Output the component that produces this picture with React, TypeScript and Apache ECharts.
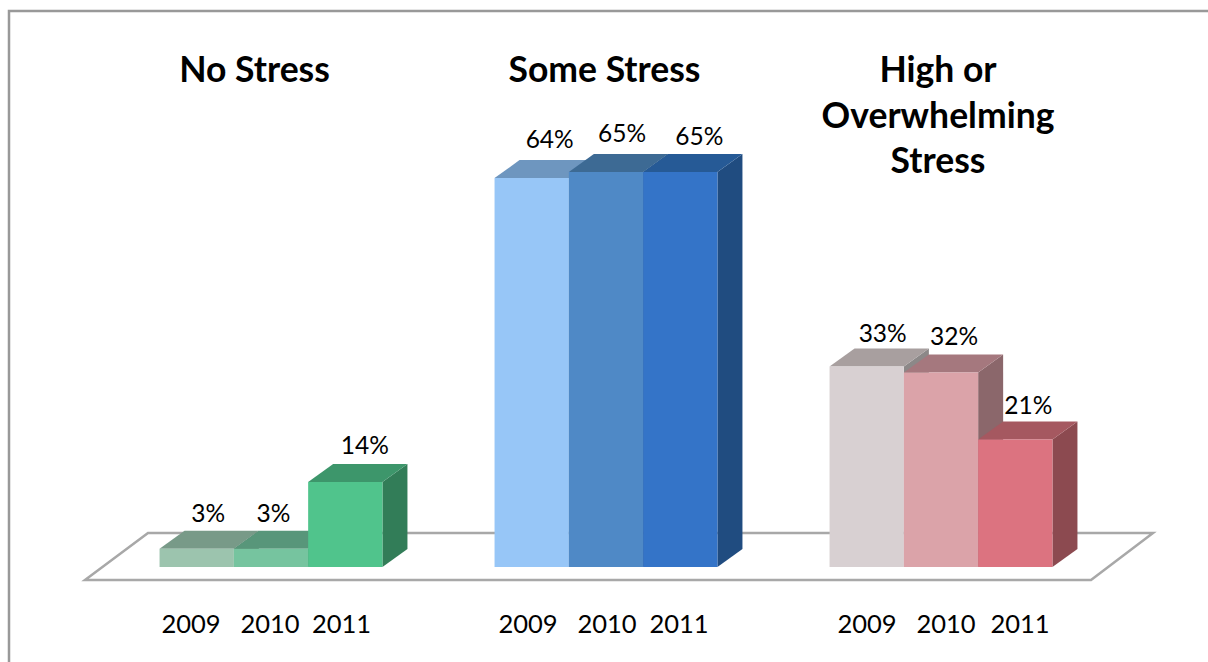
import React, { useEffect, useRef } from "react";
import * as echarts from "echarts";

const groups = ["No Stress", "Some Stress", "High or\nOverwhelming\nStress"];
const years = ["2009", "2010", "2011"];
const values2009 = [3, 64, 33];
const values2010 = [3, 65, 32];
const values2011 = [14, 65, 21];
const valueLabels = ["%"];

const barWidth = 74.3;
const depthX = 25;
const depthY = 18;
const fronts = [
  ["#9cc4ae", "#76c49f", "#50c48c"],
  ["#97c6f7", "#4f89c6", "#3474c8"],
  ["#d8d0d2", "#dba3a9", "#dc7380"],
];
const tops = [
  ["#789a88", "#58967a", "#3d966b"],
  ["#6e96bf", "#3d6a94", "#265a96"],
  ["#a89f9f", "#a5787e", "#a55860"],
];
const sides = [
  ["#5f7d6d", "#477a62", "#327d58"],
  ["#56779a", "#305477", "#204c80"],
  ["#8c8888", "#8b676b", "#8c4a50"],
];
// offset of each value label from its bar's centre: [dx, y above front top]
const labelOffsets = [
  [[11.5, 36], [2.5, 36], [19.5, 37]],
  [[18, 40], [16, 40], [19, 37]],
  [[16, 34], [13, 37], [13, 35]],
];
const yearLabelDx = [
  [-80, -1, 70.5],
  [-78, 1, 73],
  [-74, 5, 79],
];

function makeSeries(yearIdx: number, vals: number[]) {
  return {
    type: "custom",
    name: years[yearIdx],
    data: vals.map((v, i) => [i, v]),
    clip: false,
    renderItem: (_p: any, api: any) => {
      const g = api.value(0) as number;
      const v = api.value(1) as number;
      const [cx, yTop] = api.coord([g, v]);
      const [, yBase] = api.coord([g, 0]);
      const x0 = cx + (yearIdx - 1) * barWidth - barWidth / 2;
      const x1 = x0 + barWidth;
      const [ldx, ldy] = labelOffsets[g][yearIdx];
      return {
        type: "group",
        children: [
          {
            type: "polygon",
            shape: { points: [[x1, yTop], [x1 + depthX, yTop - depthY], [x1 + depthX, yBase - depthY], [x1, yBase]] },
            style: { fill: sides[g][yearIdx] },
          },
          {
            type: "polygon",
            shape: { points: [[x0, yTop], [x0 + depthX, yTop - depthY], [x1 + depthX, yTop - depthY], [x1, yTop]] },
            style: { fill: tops[g][yearIdx] },
          },
          {
            type: "rect",
            shape: { x: x0, y: yTop, width: barWidth, height: yBase - yTop },
            style: { fill: fronts[g][yearIdx] },
          },
          {
            type: "text",
            z2: 10,
            style: {
              text: `${v}${valueLabels[0]}`,
              x: (x0 + x1) / 2 + ldx,
              y: yTop - ldy,
              align: "center",
              verticalAlign: "middle",
              font: "24.5px Lato",
              fill: "#000",
            },
          },
          {
            type: "text",
            z2: 10,
            style: {
              text: years[yearIdx],
              x: cx + yearLabelDx[g][yearIdx],
              y: 622.5,
              align: "center",
              verticalAlign: "middle",
              font: "25.5px Lato",
              fill: "#000",
            },
          },
        ],
      };
    },
  };
}

export default function App() {
  const ref = useRef<HTMLDivElement>(null);
  useEffect(() => {
    const chart = echarts.init(ref.current!, undefined, { renderer: "svg" });
    chart.setOption({
      animation: false,
      backgroundColor: "#fff",
      grid: { left: 103.5, width: 1005, top: 172, bottom: 95 },
      xAxis: { type: "category", data: groups, show: false },
      yAxis: { type: "value", min: 0, max: 65, show: false, splitLine: { show: false } },
      title: groups.map((t, i) => ({
        text: t,
        left: [249.5, 599.5, 933][i],
        top: 41,
        textAlign: "center",
        textStyle: { fontFamily: "Lato", fontWeight: "bold", fontSize: 35.5, lineHeight: 45.5, color: "#000" },
      })),
      graphic: [
        {
          type: "polyline",
          silent: true,
          z: 0,
          shape: { points: [[1208, 11], [9, 11], [9, 662]] },
          style: { stroke: "#999", lineWidth: 2.5, fill: "none" },
        },
        {
          type: "polygon",
          silent: true,
          z: 0,
          shape: { points: [[85, 580], [148, 533], [1153, 533], [1091, 580]] },
          style: { stroke: "#a8a8a8", lineWidth: 2.5, fill: "#fff" },
        },
      ],
      series: [makeSeries(0, values2009), makeSeries(1, values2010), makeSeries(2, values2011)],
    });
    return () => chart.dispose();
  }, []);
  return <div ref={ref} style={{ position: "fixed", left: 0, top: 0, width: 1208, height: 662 }} />;
}
